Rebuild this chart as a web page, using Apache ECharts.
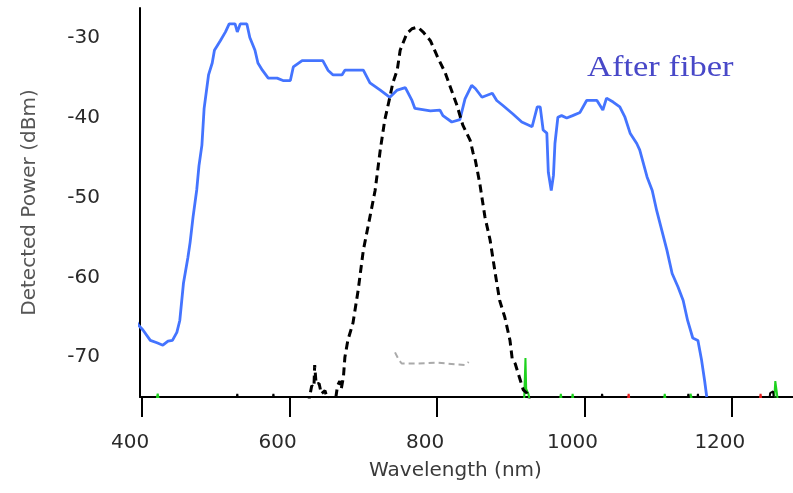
<!DOCTYPE html>
<html>
<head>
<meta charset="utf-8">
<script src="https://cdn.jsdelivr.net/npm/echarts@6/dist/echarts.min.js"></script>
<style>
  html, body { margin: 0; padding: 0; background: #fff; }
  #main { width: 793px; height: 493px; }
</style>
</head>
<body>
<div id="main"></div>
<script>
// wavelength (nm), detected power (dBm)
var afterFiber = [
  [389,-65.0],[395,-66.0],[401,-66.6],[411,-67.9],[420,-68.2],[428,-68.5],[435,-68.0],[441,-67.9],
  [447,-66.9],[451,-65.4],[456,-60.7],[462,-57.5],[465,-55.6],[469,-52.4],[474,-49.0],[477,-46.0],
  [481,-43.4],[484,-38.8],[490,-34.6],[495,-33.1],[498,-31.5],[506,-30.3],[513,-29.2],[518,-28.2],
  [526,-28.2],[529,-29.2],[533,-28.2],[542,-28.2],[546,-29.9],[553,-31.5],[557,-33.1],[563,-34.0],
  [571,-35.0],[583,-35.0],[591,-35.3],[601,-35.3],[605,-33.6],[617,-32.8],[645,-32.8],[652,-34.0],
  [659,-34.6],[671,-34.6],[675,-34.0],[700,-34.0],[709,-35.6],[723,-36.5],[736,-37.4],[746,-36.5],
  [757,-36.2],[766,-37.8],[770,-38.8],[791,-39.1],[804,-39.0],[808,-39.7],[820,-40.5],[831,-40.2],
  [838,-37.6],[847,-35.9],[852,-36.3],[861,-37.4],[875,-36.9],[881,-37.8],[889,-38.4],[903,-39.5],
  [915,-40.5],[929,-41.1],[936,-38.6],[940,-38.6],[944,-41.5],[949,-41.9],[951,-46.8],[955,-49.1],
  [958,-47.2],[960,-43.2],[964,-39.9],[969,-39.7],[976,-40.0],[984,-39.7],[994,-39.3],[1003,-37.8],
  [1017,-37.8],[1025,-39.0],[1030,-37.5],[1039,-38.0],[1048,-38.6],[1055,-39.9],[1062,-41.9],[1071,-43.2],
  [1075,-44.0],[1085,-47.4],[1092,-49.1],[1098,-51.6],[1105,-54.1],[1112,-56.6],[1119,-59.5],[1127,-61.2],
  [1134,-62.9],[1140,-65.4],[1147,-67.6],[1154,-67.9],[1159,-70.4],[1163,-72.9],[1166,-75.0]
];

var beforeFiber = [
  [625,-76],[630,-73.6],[633,-73.8],[634,-71.0],[635,-70.8],[636,-73.4],[640,-73.3],[643,-74.6],
  [648,-74.2],[652,-75.5],[662,-75.5],[665,-73.6],[668,-73.0],[670,-74.0],[673,-72.5],[675,-70.0],
  [679,-67.9],[686,-65.7],[693,-61.6],[700,-56.6],[709,-52.4],[716,-49.1],[723,-44.0],[729,-40.3],
  [736,-37.4],[740,-35.6],[746,-34.0],[750,-31.5],[759,-29.4],[766,-28.8],[774,-28.6],[782,-29.3],
  [791,-30.3],[801,-32.4],[811,-34.3],[818,-36.1],[827,-38.4],[835,-40.9],[845,-42.8],[849,-44.4],
  [852,-45.3],[858,-48.2],[865,-52.4],[872,-55.3],[879,-59.5],[885,-62.9],[892,-65.0],[899,-67.9],
  [902,-70.2],[906,-70.8],[913,-72.9],[917,-74.1],[922,-74.5],[926,-75.5]
];

var faintTrace = [[743,-69.4],[748,-70.3],[752,-70.8],[770,-70.8],[800,-70.7],[838,-71.0],[843,-70.6]];

var greenNoise = [
  [418,-76],[421,-74.6],[424,-76],[918,-76],[920,-70.1],[921,-74.0],[924,-74.6],[927,-76],
  [966,-76],[968,-74.6],[970,-76],[982,-76],[984,-74.6],[986,-76],[1107,-76],[1109,-74.6],[1111,-76],
  [1142,-76],[1144,-74.6],[1146,-74.6],[1148,-76],[1257,-76],[1259,-73.0],[1261,-74.4],[1263,-76]
];
var redNoise = [[1058,-76],[1060,-74.6],[1062,-76],[1237,-76],[1239,-74.6],[1241,-76]];
var blackNoise = [
  [527,-76],[529,-74.6],[531,-76],[576,-76],[578,-74.6],[580,-76],[1022,-76],[1024,-74.6],[1026,-76],
  [1139,-76],[1141,-74.6],[1143,-76],[1152,-76],[1154,-74.6],[1156,-76],[1250,-76],[1252,-74.5],[1256,-74.3],[1258,-76]
];

var xTicks = [400, 600, 800, 1000, 1200];
var yTicks = [-70, -60, -50, -40, -30];

var chart = echarts.init(document.getElementById('main'));

function noiseSeries(data, color) {
  return {
    type: 'line', data: data, showSymbol: false, silent: true,
    lineStyle: { color: color, width: 2 }, z: 1
  };
}

chart.setOption({
  animation: false,
  grid: { left: 140, right: 0, top: 8, bottom: 96 },
  xAxis: {
    type: 'value', min: 397, max: 1283,
    name: 'Wavelength (nm)', nameLocation: 'middle', nameGap: 64,
    nameTextStyle: { fontFamily: 'DejaVu Sans', fontSize: 20, color: '#3a3a3a', padding: [0, 22, 0, 0] },
    axisLine: { lineStyle: { color: '#000', width: 2 } },
    axisTick: { show: true, customValues: xTicks, length: 20, inside: false, lineStyle: { color: '#000', width: 2 } },
    axisLabel: {
      customValues: xTicks, margin: 36, fontFamily: 'DejaVu Sans', fontSize: 20, color: '#2a2a2a',
      padding: [0, 24, 0, 0], formatter: function (v) { return String(v); }
    },
    splitLine: { show: false }
  },
  yAxis: {
    type: 'value', min: -75, max: -26.2,
    name: 'Detected Power (dBm)', nameLocation: 'middle', nameGap: 100,
    nameTextStyle: { fontFamily: 'DejaVu Sans', fontSize: 20, color: '#555' },
    axisLine: { show: true, lineStyle: { color: '#000', width: 2 } },
    axisTick: { show: false },
    axisLabel: { customValues: yTicks, margin: 40, fontFamily: 'DejaVu Sans', fontSize: 20, color: '#2a2a2a' },
    splitLine: { show: false }
  },
  graphic: [{
    type: 'text', left: 587, top: 53, scaleX: 1.15,
    style: { text: 'After fiber', font: '30px "Liberation Serif"', fill: '#4848c8' }
  }],
  series: [
    noiseSeries(greenNoise, '#1ed21e'),
    noiseSeries(redNoise, '#e82020'),
    noiseSeries(blackNoise, '#000'),
    {
      name: 'Faint', type: 'line', data: faintTrace, showSymbol: false,
      lineStyle: { color: '#aaa', width: 2, type: [6, 4] }, z: 1
    },
    {
      name: 'Before fiber', type: 'line', data: beforeFiber, showSymbol: false,
      lineStyle: { color: '#000', width: 3, type: [8, 5] }, z: 3
    },
    {
      name: 'After fiber', type: 'line', data: afterFiber, showSymbol: false, clip: false,
      lineStyle: { color: '#4474ff', width: 2.8 }, z: 2
    }
  ]
});
</script>
</body>
</html>
